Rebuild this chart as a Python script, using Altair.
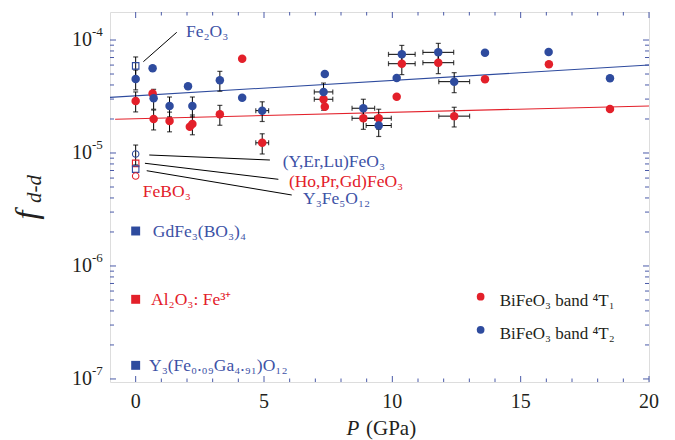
import altair as alt
import pandas as pd

# ---------------- data ----------------
# BiFeO3 band 4T1 (red)
p_t1 = [0, 0.66, 0.70, 1.32, 2.11, 2.21, 3.28, 4.15, 4.93, 7.32, 7.37, 8.87, 9.47,
        10.17, 10.37, 11.79, 12.41, 13.61, 16.10, 18.48]
f_t1 = [2.89e-5, 3.37e-5, 2.00e-5, 1.92e-5, 1.71e-5, 1.81e-5, 2.20e-5, 6.84e-5, 1.23e-5,
        2.99e-5, 2.57e-5, 2.03e-5, 2.03e-5, 3.15e-5, 6.17e-5, 6.30e-5, 2.12e-5, 4.49e-5,
        6.10e-5, 2.45e-5]
ferr_t1 = [5.8e-6, 0, 4.0e-6, 3.8e-6, 0, 3.6e-6, 4.4e-6, 0, 2.5e-6, 6.0e-6, 0, 4.1e-6,
           4.1e-6, 0, 1.23e-5, 1.26e-5, 4.2e-6, 0, 0, 0]
perr_t1 = [0, 0, 0, 0, 0, 0, 0, 0, 0.25, 0.36, 0, 0.44, 0.49, 0, 0.52, 0.60, 0.60, 0, 0, 0]

# BiFeO3 band 4T2 (blue)
p_t2 = [0, 0.66, 0.70, 1.32, 2.04, 2.21, 3.28, 4.15, 4.93, 7.32, 7.37, 8.87, 9.47,
        10.17, 10.37, 11.79, 12.41, 13.61, 16.09, 18.48]
f_t2 = [4.52e-5, 5.62e-5, 3.05e-5, 2.61e-5, 3.89e-5, 2.61e-5, 4.40e-5, 3.08e-5, 2.37e-5,
        3.47e-5, 5.00e-5, 2.49e-5, 1.75e-5, 4.61e-5, 7.47e-5, 7.78e-5, 4.28e-5, 7.72e-5,
        7.83e-5, 4.58e-5]
ferr_t2 = [9.0e-6, 0, 6.1e-6, 5.2e-6, 0, 5.2e-6, 8.8e-6, 0, 4.7e-6, 6.9e-6, 0, 5.0e-6,
           3.5e-6, 0, 1.49e-5, 1.56e-5, 8.6e-6, 0, 0, 0]
perr_t2 = [0, 0, 0, 0, 0, 0, 0, 0, 0.25, 0.36, 0, 0.44, 0.49, 0, 0.52, 0.60, 0.60, 0, 0, 0]

# fitted trend lines (end points)
fit_t1_p = [-0.8, 20]
fit_t1_f = [1.99e-5, 2.61e-5]
fit_t2_p = [-1, 20]
fit_t2_f = [3.11e-5, 6.01e-5]

# reference compounds at ambient pressure
ref_names = ["Fe₂O₃", "(Y,Er,Lu)FeO₃", "(Ho,Pr,Gd)FeO₃", "Y₃Fe₅O₁₂", "FeBO₃",
             "GdFe₃(BO₃)₄", "Al₂O₃: Fe³⁺", "Y₃(Fe₀.₀₉Ga₄.₉₁)O₁₂"]
ref_p = [0, 0, 0, 0, 0, 0, 0, 0]
ref_f = [5.9e-5, 9.8e-6, 8.1e-6, 7.2e-6, 6.25e-6, 2.04e-6, 5.07e-7, 1.32e-7]
ref_ferr = [1.18e-5, 1.96e-6, 0, 0, 0, 0, 0, 0]
ref_shape = ["square", "circle", "square", "square", "circle", "square", "square", "square"]
ref_filled = [False, False, False, False, False, True, True, True]
ref_series = ["b", "b", "r", "b", "r", "b", "r", "b"]

# annotation label anchors (data units)
lab_p = [1.96, 5.73, 5.97, 6.52, 0.28, 0.67, 0.60, 0.52]
lab_f = [1.18e-4, 8.35e-6, 5.55e-6, 3.88e-6, 4.52e-6, 2.0e-6, 5.0e-7, 1.30e-7]
# leader lines
lead_p1 = [0.30, 0.53, 0.36, 0.43]
lead_f1 = [6.43e-5, 9.6e-6, 8.11e-6, 6.97e-6]
lead_p2 = [1.60, 5.23, 5.56, 6.08]
lead_f2 = [1.17e-4, 8.67e-6, 5.85e-6, 4.25e-6]

legend_labels = ["BiFeO₃ band ⁴T₁", "BiFeO₃ band ⁴T₂"]
legend_p = [13.44, 13.44]
legend_f = [5.35e-7, 2.72e-7]
legend_series = ["r", "b"]

x_major = [0, 5, 10, 15, 20]
x_major_labels = ["0", "5", "10", "15", "20"]
x_minor = [1, 2, 3, 4, 6, 7, 8, 9, 11, 12, 13, 14, 16, 17, 18, 19]
y_major = [1e-7, 1e-6, 1e-5, 1e-4]
y_major_base = ["10", "10", "10", "10"]
y_major_exp = ["-7", "-6", "-5", "-4"]
y_minor = [m * 10.0 ** e for e in (-7, -6, -5) for m in range(2, 10)] + \
          [m * 1e-4 for m in range(2, 10) if m * 1e-4 < 1.77e-4]

# ---------------- styling ----------------
RED = "#e3202a"
BLUE = "#2e4b9e"
TBLUE = "#3d52a6"
FRAME = "#4a5aa8"
INK = "#231f20"
FONT = "Liberation Serif"
W, H = 539, 370
col = {"r": RED, "b": BLUE}
tcol = {"r": RED, "b": TBLUE}

xs = alt.Scale(domain=[-1, 20], nice=False, zero=False)
ys = alt.Scale(type="log", domain=[9.4e-8, 1.77e-4], nice=False)


def X(f, **kw):
    return alt.X(f, type="quantitative", scale=xs, axis=None, **kw)


def Y(f, **kw):
    return alt.Y(f, type="quantitative", scale=ys, axis=None, **kw)


# combined tables
pts = pd.DataFrame({
    "p": p_t1 + p_t2,
    "f": f_t1 + f_t2,
    "ferr": ferr_t1 + ferr_t2,
    "perr": perr_t1 + perr_t2,
    "c": [RED] * len(p_t1) + [BLUE] * len(p_t2),
})
refs = pd.DataFrame({"p": ref_p, "f": ref_f, "ferr": ref_ferr, "perr": [0] * len(ref_p),
                     "shape": ref_shape, "filled": ref_filled,
                     "c": [col[s] for s in ref_series], "tc": [tcol[s] for s in ref_series],
                     "name": ref_names, "lp": lab_p, "lf": lab_f})
err = pd.concat([pts[["p", "f", "ferr", "perr"]], refs[["p", "f", "ferr", "perr"]]])
yerr = err[err.ferr > 0].copy()
yerr["lo"] = yerr.f - yerr.ferr
yerr["hi"] = yerr.f + yerr.ferr
xerr = err[err.perr > 0].copy()
xerr["lo"] = xerr.p - xerr.perr
xerr["hi"] = xerr.p + xerr.perr

layers = []

# tick labels (drawn through the scales)
xl = pd.DataFrame({"p": x_major, "t": x_major_labels})
layers.append(alt.Chart(xl).mark_text(font=FONT, fontSize=20, color=INK, baseline="middle",
                                      align="center").encode(
    x=X("p"), y=alt.value(H + 20), text="t:N"))
yl = pd.DataFrame({"f": y_major, "b": y_major_base, "e": y_major_exp})
layers.append(alt.Chart(yl).mark_text(font=FONT, fontSize=20, color=INK, baseline="middle",
                                      align="right").encode(
    y=Y("f"), x=alt.value(-18), text="b:N"))
layers.append(alt.Chart(yl).mark_text(font=FONT, fontSize=13, color=INK, baseline="middle",
                                      align="left", dy=-8).encode(
    y=Y("f"), x=alt.value(-18), text="e:N"))


# inward ticks on all four sides
def xticks(vals, L):
    d = pd.DataFrame({"p": vals})
    b = alt.Chart(d).mark_rule(color=FRAME, strokeWidth=1)
    return [b.encode(x=X("p"), y=alt.value(H), y2=alt.value(H - L)),
            b.encode(x=X("p"), y=alt.value(0), y2=alt.value(L))]


def yticks(vals, L):
    d = pd.DataFrame({"f": vals})
    b = alt.Chart(d).mark_rule(color=FRAME, strokeWidth=1)
    return [b.encode(y=Y("f"), x=alt.value(0), x2=alt.value(L)),
            b.encode(y=Y("f"), x=alt.value(W), x2=alt.value(W - L))]


layers += xticks(x_major, 6) + xticks(x_minor, 3.5) + yticks(y_major, 6) + yticks(y_minor, 4)

# trend lines
fit = pd.DataFrame({"p": fit_t1_p + fit_t2_p, "f": fit_t1_f + fit_t2_f,
                    "s": ["r", "r", "b", "b"]})
layers.append(alt.Chart(fit).mark_line(strokeWidth=1.1).encode(
    x=X("p"), y=Y("f"), detail="s:N",
    color=alt.Color("s:N", scale=alt.Scale(domain=["r", "b"], range=[RED, BLUE]), legend=None)))

# error bars
layers.append(alt.Chart(yerr).mark_rule(color="black", strokeWidth=1).encode(
    x=X("p"), y=Y("lo"), y2="hi"))
layers.append(alt.Chart(yerr).mark_tick(color="black", orient="horizontal", size=5, thickness=1.2).encode(
    x=X("p"), y=Y("lo")))
layers.append(alt.Chart(yerr).mark_tick(color="black", orient="horizontal", size=5, thickness=1.2).encode(
    x=X("p"), y=Y("hi")))
layers.append(alt.Chart(xerr).mark_rule(color="black", strokeWidth=1).encode(
    x=X("lo"), x2="hi", y=Y("f")))
layers.append(alt.Chart(xerr).mark_tick(color="black", orient="vertical", size=5, thickness=1.2).encode(
    x=X("lo"), y=Y("f")))
layers.append(alt.Chart(xerr).mark_tick(color="black", orient="vertical", size=5, thickness=1.2).encode(
    x=X("hi"), y=Y("f")))

# BiFeO3 points
layers.append(alt.Chart(pts).mark_circle(size=72, opacity=1).encode(
    x=X("p"), y=Y("f"), color=alt.Color("c:N", scale=None)))

# reference compounds
open_refs = refs[~refs.filled]
filled_refs = refs[refs.filled]
layers.append(alt.Chart(open_refs).mark_point(filled=False, size=42, strokeWidth=1.1, opacity=1).encode(
    x=X("p"), y=Y("f"), color=alt.Color("c:N", scale=None), shape=alt.Shape("shape:N", scale=None)))
layers.append(alt.Chart(filled_refs).mark_point(filled=True, size=80, opacity=1).encode(
    x=X("p"), y=Y("f"), color=alt.Color("c:N", scale=None), shape=alt.Shape("shape:N", scale=None)))

# leader lines
lead = pd.DataFrame({"p1": lead_p1, "f1": lead_f1, "p2": lead_p2, "f2": lead_f2})
layers.append(alt.Chart(lead).mark_rule(color="black", strokeWidth=1).encode(
    x=X("p1"), y=Y("f1"), x2="p2", y2="f2"))

# annotation labels
layers.append(alt.Chart(refs).mark_text(align="left", baseline="middle", font=FONT, fontSize=17.5).encode(
    x=X("lp"), y=Y("lf"), text="name:N", color=alt.Color("tc:N", scale=None)))

# legend
leg = pd.DataFrame({"p": legend_p, "f": legend_f, "t": legend_labels,
                    "c": [col[s] for s in legend_series]})
layers.append(alt.Chart(leg).mark_circle(size=60, opacity=1).encode(
    x=X("p"), y=Y("f"), color=alt.Color("c:N", scale=None)))
layers.append(alt.Chart(leg).mark_text(align="left", baseline="middle", font=FONT, fontSize=17,
                                       dx=19, dy=4, color=INK).encode(
    x=X("p"), y=Y("f"), text="t:N"))


# axis titles
def label(txt, x, y, size, italic=False, angle=0, align="center"):
    kw = dict(font=FONT, fontSize=size, color=INK, align=align, baseline="middle")
    if italic:
        kw["fontStyle"] = "italic"
    if angle:
        kw["angle"] = angle
    return alt.Chart(pd.DataFrame({"t": [txt]})).mark_text(**kw).encode(
        text="t:N", x=alt.value(x), y=alt.value(y))


layers.append(label("P", 243, 417, 21, italic=True))
layers.append(label("(GPa)", 256, 417, 21, align="left"))
layers.append(label("f", -83, 203, 32, italic=True, angle=270))
layers.append(label("d-d", -75, 177, 21, italic=True, angle=270))

chart = alt.layer(*layers).properties(
    width=W, height=H,
    autosize=alt.AutoSizeParams(type="none"),
    padding={"left": 110, "top": 12, "right": 26, "bottom": 58},
).configure_view(stroke=FRAME, strokeWidth=1.2).configure(background="white")

chart.save("out.html", embed_options={"renderer": "svg", "actions": False})
